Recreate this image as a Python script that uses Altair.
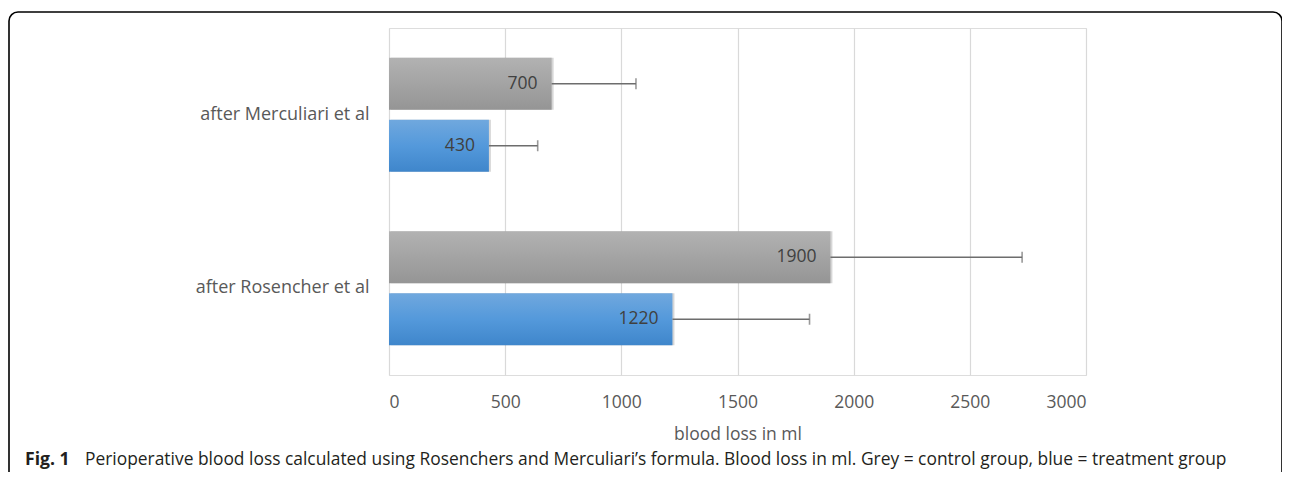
import altair as alt
import pandas as pd

categories = ["after Merculiari et al", "after Rosencher et al"]
groups = ["control", "treatment"]
control_mean = [700, 1900]
treatment_mean = [430, 1220]
control_sd = [363, 825]
treatment_sd = [210, 590]
x_ticks = [0, 500, 1000, 1500, 2000, 2500, 3000]
x_title = "blood loss in ml"
caption_bold = "Fig. 1"
caption_rest = ("Perioperative blood loss calculated using Rosenchers and Merculiari\u2019s formula. "
                "Blood loss in ml. Grey = control group, blue = treatment group")

rows = []
for i, c in enumerate(categories):
    rows.append(dict(cat=c, group="control", value=control_mean[i], sd=control_sd[i]))
    rows.append(dict(cat=c, group="treatment", value=treatment_mean[i], sd=treatment_sd[i]))
df = pd.DataFrame(rows)
df["hi"] = df["value"] + df["sd"]

W, H = 697, 347
FONT = "Open Sans"
LABEL = "#595959"

x_scale = alt.Scale(domain=[0, 3000], nice=False, zero=True)
y_enc = alt.Y(
    "cat:N",
    scale=alt.Scale(domain=categories, paddingInner=0, paddingOuter=0),
    axis=alt.Axis(domain=False, ticks=False, labelFontSize=18, labelColor=LABEL,
                  labelPadding=20, labelFont=FONT, title=None),
)
yoff = alt.YOffset("group:N", scale=alt.Scale(domain=groups, paddingInner=0.161, paddingOuter=0.48))

base = alt.Chart(df).encode(y=y_enc, yOffset=yoff)

grey_grad = alt.Gradient(
    gradient="linear", x1=0, y1=0, x2=0, y2=1,
    stops=[alt.GradientStop(color="#b2b2b2", offset=0), alt.GradientStop(color="#959595", offset=1)],
)
blue_grad = alt.Gradient(
    gradient="linear", x1=0, y1=0, x2=0, y2=1,
    stops=[alt.GradientStop(color="#70a8de", offset=0), alt.GradientStop(color="#5499db", offset=0.5),
           alt.GradientStop(color="#3f86cb", offset=1)],
)

x_axis = alt.Axis(values=x_ticks, format="d", grid=True, gridColor="#d9d9d9", gridWidth=1.2,
                  domain=False, ticks=False, labelFontSize=17.5, labelColor=LABEL, labelPadding=18,
                  labelFont=FONT, title=x_title, titleFontSize=17.5, titleColor=LABEL,
                  titleFontWeight="normal", titleFont=FONT, titlePadding=15)

shadow = base.mark_bar(color="#000000", opacity=0.16, xOffset=2, yOffset=3).encode(
    x=alt.X("value:Q", scale=x_scale, axis=x_axis)
)
grey = base.transform_filter(alt.datum.group == "control").mark_bar(color=grey_grad).encode(
    x=alt.X("value:Q", scale=x_scale)
)
blue = base.transform_filter(alt.datum.group == "treatment").mark_bar(color=blue_grad).encode(
    x=alt.X("value:Q", scale=x_scale)
)
err = base.mark_rule(color="#6d6d6d", strokeWidth=1.6).encode(
    x=alt.X("value:Q", scale=x_scale), x2="hi:Q"
)
cap = base.mark_tick(color="#6d6d6d", thickness=1.6, size=11).encode(
    x=alt.X("hi:Q", scale=x_scale)
)
labels = base.mark_text(align="right", baseline="middle", dx=-14, fontSize=17.5, color="#404040",
                        font=FONT).encode(
    x=alt.X("value:Q", scale=x_scale), text="value:Q"
)

one = alt.Data(values=[{}])
border = alt.Chart(one).mark_rect(fill="transparent", stroke="#000000", strokeWidth=1.6,
                                  cornerRadius=9).encode(
    x=alt.value(-380), x2=alt.value(893), y=alt.value(-16), y2=alt.value(470)
)
cap1 = alt.Chart(one).mark_text(text=caption_bold, fontWeight="bold", fontSize=17.6, align="left",
                                baseline="middle", color="#231f20", font=FONT).encode(
    x=alt.value(-364), y=alt.value(432)
)
cap2 = alt.Chart(one).mark_text(text=caption_rest, fontSize=17.4, align="left",
                                baseline="middle", color="#231f20", font=FONT).encode(
    x=alt.value(-304), y=alt.value(432)
)

chart = alt.layer(shadow, grey, blue, err, cap, labels, border, cap1, cap2).properties(
    width=W, height=H,
    padding={"left": 381, "top": 20, "right": 196, "bottom": 97},
    autosize=alt.AutoSizeParams(type="none"),
).configure_view(strokeWidth=0).configure(font=FONT)

chart.save("out.html", embed_options={"renderer": "svg", "actions": False})
